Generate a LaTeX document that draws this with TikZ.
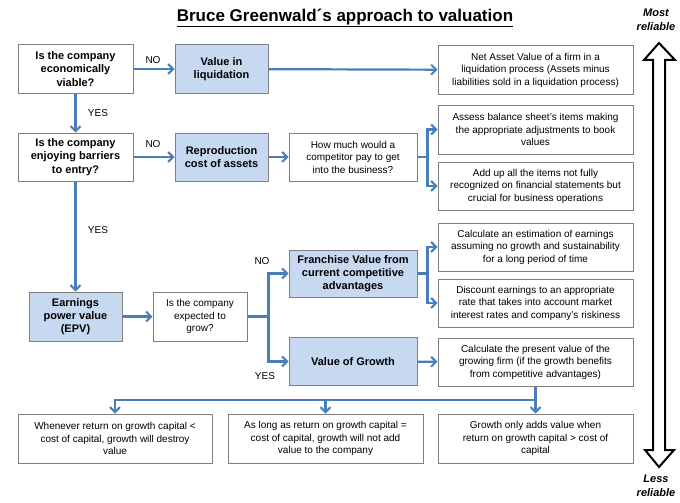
\documentclass[tikz,border=0pt]{standalone}
\usepackage{fontspec}
\setmainfont{Liberation Sans}
\usetikzlibrary{arrows.meta}
\definecolor{lineblue}{HTML}{4A7EBB}
\definecolor{boxblue}{HTML}{C6D9F1}
\definecolor{boxgray}{HTML}{7F7F7F}
\begin{document}
\begin{tikzpicture}[x=1pt,y=-1pt,
  box/.style={draw=boxgray,line width=1pt,fill=white,align=center,inner sep=0pt,
    font={\fontsize{10}{12.5}\selectfont}},
  qbox/.style={box,font={\fontsize{11}{13.2}\selectfont\bfseries}},
  bbox/.style={box,fill=boxblue,font={\fontsize{11}{13.2}\selectfont\bfseries}},
  sz/.style 2 args={minimum width=#1pt,minimum height=#2pt},
  conn/.style={draw=lineblue,line width=2.2pt},
  arr/.style={conn,-{Straight Barb[length=5pt,width=10pt,line width=2pt]}},
  lab/.style={font={\fontsize{10}{12}\selectfont},inner sep=0pt}]
\useasboundingbox (0,0) rectangle (680,503);

% title
\node (title) at (345,18) {\fontsize{17}{20}\selectfont\bfseries\underline{Bruce Greenwald´s approach to valuation}};
\node[align=center,font={\fontsize{11}{13.5}\selectfont\bfseries\itshape}] (most) at (656,20) {Most\\reliable};
\node[align=center,font={\fontsize{11}{13.5}\selectfont\bfseries\itshape}] (less) at (656,486) {Less\\reliable};

% big double arrow
\draw[black,line width=2pt,fill=white,line join=miter]
  (659,43) -- (675,60) -- (665,60) -- (665,450) -- (674,450) -- (659,467)
  -- (645,450) -- (653,450) -- (653,60) -- (644,60) -- cycle;

% row 1
\node[qbox,sz={115}{48}] (q1) at (75.5,69) {Is the company\\economically\\viable?};
\node[bbox,sz={93}{48}] (liq) at (221.5,69) {Value in\\liquidation};
\node[box,sz={195}{49}] (nav) at (535.5,70) {Net Asset Value of a firm in a\\liquidation process (Assets minus\\liabilities sold in a liquidation process)};

% row 2
\node[qbox,sz={115}{48}] (q2) at (75.5,157) {Is the company\\enjoying barriers\\to entry?};
\node[bbox,sz={93}{48}] (rep) at (221.5,157) {Reproduction\\cost of assets};
\node[box,sz={128}{48}] (howmuch) at (353,157) {How much would a\\competitor pay to get\\into the business?};
\node[box,sz={195}{49}] (assess) at (535.5,129.5) {Assess balance sheet's items making\\the appropriate adjustments to book\\values};
\node[box,sz={195}{48}] (addup) at (535.5,186) {Add up all the items not fully\\recognized on financial statements but\\crucial for business operations};

% row 3
\node[box,sz={195}{48}] (calcest) at (535.5,247) {Calculate an estimation of earnings\\assuming no growth and sustainability\\for a long period of time};
\node[box,sz={195}{48}] (discount) at (535.5,303) {Discount earnings to an appropriate\\rate that takes into account market\\interest rates and company's riskiness};
\node[bbox,sz={128}{47}] (franch) at (353,273.5) {Franchise Value from\\current competitive\\advantages};
\node[bbox,sz={128}{48}] (vog) at (353,361.5) {Value of Growth};
\node[box,sz={195}{48}] (calcpv) at (535.5,362) {Calculate the present value of the\\growing firm (if the growth benefits\\from competitive advantages)};
\node[bbox,sz={93}{49}] (epv) at (75.5,316.5) {Earnings\\power value\\(EPV)};
\node[box,sz={94}{49}] (grow) at (200,316.5) {Is the company\\expected to\\grow?};

% bottom row
\node[box,sz={194}{49}] (bl) at (115,438.5) {Whenever return on growth capital <\\cost of capital, growth will destroy\\value};
\node[box,sz={195}{49}] (bm) at (325.5,438.5) {As long as return on growth capital =\\cost of capital, growth will not add\\value to the company};
\node[box,sz={195}{49}] (br) at (535.5,438.5) {Growth only adds value when\\return on growth capital > cost of\\capital};

% labels
\node[lab] (no1) at (153,60) {NO};
\node[lab] (yes1) at (98,113) {YES};
\node[lab] (no2) at (153,144) {NO};
\node[lab] (yes2) at (98,230) {YES};
\node[lab] (no3) at (262,261) {NO};
\node[lab] (yes3) at (265,376) {YES};

% connectors
\draw[arr] (q1) -- (liq);
\draw[arr] (liq) -- (nav);
\draw[arr] (q1) -- (q2);
\draw[arr] (q2) -- (rep);
\draw[arr] (rep) -- (howmuch);
\draw[arr] (howmuch.east) -- ++(10,0) |- (assess.west);
\draw[arr] (howmuch.east) -- ++(10,0) |- (addup.west);
\draw[arr] (q2) -- (epv);
\draw[arr] (epv) -- (grow);
\draw[arr] (grow.east) -- ++(21,0) |- (franch.west);
\draw[arr] (grow.east) -- ++(21,0) |- (vog.west);
\draw[arr] (franch.east) -- ++(10,0) |- (calcest.west);
\draw[arr] (franch.east) -- ++(10,0) |- (discount.west);
\draw[arr] (vog) -- (calcpv);
\coordinate (j) at (535.5,400);
\draw[arr] (calcpv.south) -- (j) -| (bl.north);
\draw[arr] (j) -| (bm.north);
\draw[arr] (calcpv.south) -- (br.north);
\end{tikzpicture}
\end{document}
